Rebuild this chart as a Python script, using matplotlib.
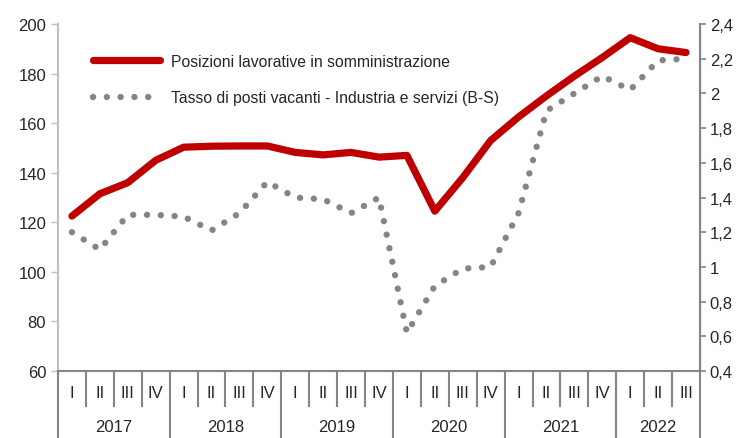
"""
Posizioni lavorative in somministrazione vs tasso di posti vacanti (2017-2022).
"""

import matplotlib

matplotlib.use("Agg")
import matplotlib.pyplot as plt
from matplotlib.ticker import FuncFormatter

# quarters 2017 I .. 2022 III
years = ["2017", "2018", "2019", "2020", "2021", "2022"]
quarters_per_year = [4, 4, 4, 4, 4, 3]
quarter_labels = ["I", "II", "III", "IV"]

# left axis: posizioni lavorative in somministrazione (index)
posizioni = [122.5, 131.5, 136, 145, 150.3, 150.7, 150.8, 150.8,
             148.2, 147.2, 148.2, 146.3, 147, 124.5, 138, 153,
             162.5, 171, 179, 186.5, 194.5, 190, 188.5]
# right axis: tasso di posti vacanti - industria e servizi (B-S)
vacanti = [1.2, 1.1, 1.3, 1.3, 1.29, 1.21, 1.31, 1.49,
           1.40, 1.39, 1.31, 1.40, 0.62, 0.89, 0.99, 1.0,
           1.31, 1.90, 2.0, 2.1, 2.02, 2.19, 2.2]

label_pos = "Posizioni lavorative in somministrazione"
label_vac = "Tasso di posti vacanti - Industria e servizi (B-S)"

plt.rcParams["font.family"] = ["Liberation Sans", "DejaVu Sans"]
plt.rcParams["font.size"] = 12

RED = "#c00000"
GREY = "#858585"
TXT = "#262626"

n = len(posizioni)
x = list(range(n))

fig = plt.figure(figsize=(7.53, 4.39), dpi=100)
ax = fig.add_axes([0.077, 0.1526, 0.8526, 0.7904])
ax2 = ax.twinx()

ax.plot(x, posizioni, color=RED, linewidth=5.2, solid_capstyle="round",
        solid_joinstyle="round", label=label_pos, zorder=3)
ax2.plot(x, vacanti, color=GREY, linewidth=4.6, linestyle=(0, (0.01, 2.15)),
         dash_capstyle="round", label=label_vac, zorder=2)

ax.set_xlim(-0.5, n - 0.5)
ax.set_ylim(60, 200)
ax2.set_ylim(0.4, 2.4)
ax.set_yticks(range(60, 201, 20))
ax2.set_yticks([0.4 + 0.2 * i for i in range(11)])
ax2.yaxis.set_major_formatter(FuncFormatter(lambda v, p: f"{v:g}".replace(".", ",")))

ax.set_xticks([])
ax2.set_xticks([])

for a in (ax, ax2):
    a.spines["top"].set_visible(False)
ax.spines["left"].set_color("#c0c0c0")
ax.spines["left"].set_linewidth(1.5)
ax.spines["bottom"].set_color(GREY)
ax.spines["bottom"].set_linewidth(1.5)
ax2.spines["left"].set_visible(False)
ax2.spines["bottom"].set_visible(False)
ax2.spines["right"].set_color(GREY)
ax2.spines["right"].set_linewidth(1.5)

ax.tick_params(axis="y", length=5, width=1, color="#c0c0c0", pad=3.5, labelcolor=TXT)
ax2.tick_params(axis="y", length=4, width=1.2, color=GREY, pad=3, labelcolor=TXT)

# two-level category axis
tr = ax.get_xaxis_transform()
i = 0
for yr, nq in zip(years, quarters_per_year):
    ax.plot([i - 0.5, i - 0.5], [0, -0.193], transform=tr, color=GREY,
            linewidth=1.5, clip_on=False)
    for q in range(nq):
        k = i + q
        if q > 0:
            ax.plot([k - 0.5, k - 0.5], [0, -0.101], transform=tr, color=GREY,
                    linewidth=1.5, clip_on=False)
        ax.text(k, -0.0605, quarter_labels[q], transform=tr, ha="center",
                va="center", color=TXT)
    ax.text(i + (nq - 1) / 2, -0.161, yr, transform=tr, ha="center",
            va="center", color=TXT)
    i += nq
ax.plot([n - 0.5, n - 0.5], [0, -0.193], transform=tr, color=GREY,
        linewidth=1.5, clip_on=False)

h1, l1 = ax.get_legend_handles_labels()
h2, l2 = ax2.get_legend_handles_labels()
leg = ax2.legend(h1 + h2, l1 + l2, loc="upper left", bbox_to_anchor=(0.054, 0.915),
                 frameon=False, borderpad=0, borderaxespad=0, handlelength=4.3,
                 handletextpad=0.7, labelspacing=1.4, fontsize=11.3)
for t in leg.get_texts():
    t.set_color(TXT)

fig.savefig("out.png", dpi=100)
